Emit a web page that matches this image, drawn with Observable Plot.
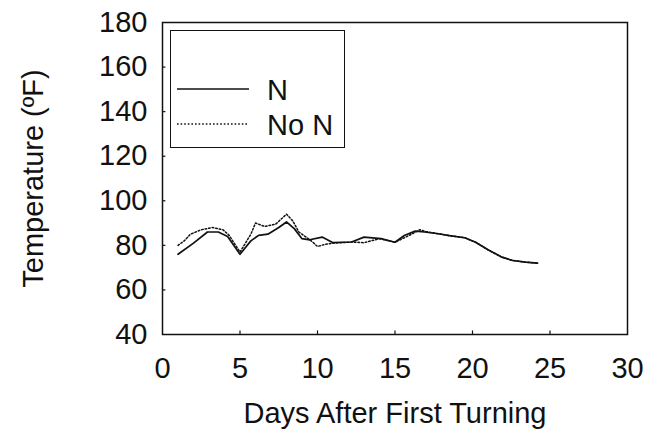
<!DOCTYPE html>
<html>
<head>
<meta charset="utf-8">
<script src="https://cdn.jsdelivr.net/npm/d3@7"></script>
<script src="https://cdn.jsdelivr.net/npm/@observablehq/plot@0.6"></script>
<style>
  html, body { margin: 0; padding: 0; background: #fff; }
  #wrap { position: relative; width: 655px; height: 435px; font-family: "Liberation Sans", Arial, sans-serif; }
  #legend { position: absolute; left: 170px; top: 30px; width: 173px; height: 116px; border: 1.5px solid #111; background: #fff; }
  #legend svg { position: absolute; left: 0; top: 0; }
  #legend .lab { position: absolute; left: 96px; font-size: 29px; line-height: 1; color: #111; }
</style>
</head>
<body>
<div id="wrap"><div id="chart"></div>
  <div id="legend">
    <svg width="100" height="116"><line x1="6" x2="78" y1="58" y2="58" stroke="#111" stroke-width="1.7"/><line x1="6" x2="78" y1="93" y2="93" stroke="#111" stroke-width="1.5" stroke-dasharray="1.6,2"/></svg>
    <div class="lab" style="top:45px">N</div>
    <div class="lab" style="top:80px">No N</div>
  </div>
</div>
<script>
const seriesNames = ["N", "No N"];
const xTicks = [0, 5, 10, 15, 20, 25, 30];
const yTicks = [40, 60, 80, 100, 120, 140, 160, 180];

const daysN = [1.0, 2.0, 2.9, 3.6, 4.2, 5.0, 5.7, 6.2, 6.8, 7.5, 8.0, 8.5, 9.0, 9.5, 10.3, 11.0, 12.2, 13.0, 14.1, 15.0, 15.6, 16.3, 16.9, 17.8, 18.5, 19.5, 20.2, 21.0, 21.9, 22.6, 23.4, 24.2];
const tempN = [76, 81, 86, 86, 84, 76, 82, 84.5, 85, 88, 90.5, 87.5, 83, 82.5, 83.7, 81.2, 81.5, 83.7, 83, 81.4, 84.4, 86.4, 86, 85.2, 84.4, 83.4, 81.4, 78, 74.7, 73.2, 72.5, 72];

const daysNoN = [1.0, 1.4, 1.8, 2.5, 3.2, 3.9, 4.3, 5.0, 5.7, 6.0, 6.6, 7.3, 8.0, 8.4, 8.8, 9.6, 10.0, 10.5, 11.0, 12.2, 13.0, 14.0, 15.0, 15.9, 16.6, 17.0, 17.8, 18.5, 19.5, 20.2, 21.0, 21.9, 22.6, 23.4, 24.2];
const tempNoN = [80, 82, 85, 87, 88, 87, 84.5, 77, 85, 90, 88.5, 89.5, 94, 91, 86, 82, 79.5, 80.5, 81, 81.5, 81.2, 83, 81.4, 84.4, 87, 86.2, 85.2, 84.4, 83.4, 81.4, 78, 74.7, 73.2, 72.5, 72];

const rowsN = daysN.map((d, i) => ({day: d, temp: tempN[i], s: seriesNames[0]}));
const rowsNoN = daysNoN.map((d, i) => ({day: d, temp: tempNoN[i], s: seriesNames[1]}));

const fontStyle = {fontFamily: "'Liberation Sans', Arial, sans-serif", fontSize: "29px", color: "#111", background: "#fff", overflow: "visible"};

const chart = Plot.plot({
  width: 655,
  height: 435,
  marginLeft: 162,
  marginRight: 28,
  marginTop: 22,
  marginBottom: 101,
  style: fontStyle,
  x: {domain: [0, 30]},
  y: {domain: [40, 180]},
  marks: [
    Plot.axisX(xTicks, {tickSize: 0, tickPadding: 23, label: "Days After First Turning", labelAnchor: "center", labelArrow: "none", labelOffset: 88}),
    Plot.axisY(yTicks, {tickSize: 0, tickPadding: 15, label: "Temperature (ºF)", labelAnchor: "center", labelArrow: "none", labelOffset: 140}),
    Plot.ruleX(xTicks.slice(1, -1), {y1: 40, y2: 41.6, stroke: "#111", strokeWidth: 1.2}),
    Plot.ruleY(yTicks.slice(1, -1), {x1: 0, x2: 0.22, stroke: "#111", strokeWidth: 1.2}),
    Plot.line(rowsNoN, {x: "day", y: "temp", stroke: "#111", strokeWidth: 1.5, strokeDasharray: "1.6,2"}),
    Plot.line(rowsN, {x: "day", y: "temp", stroke: "#111", strokeWidth: 1.7}),
    Plot.frame({stroke: "#111", strokeWidth: 1.5})
  ]
});
document.getElementById("chart").appendChild(chart);
</script>
</body>
</html>
